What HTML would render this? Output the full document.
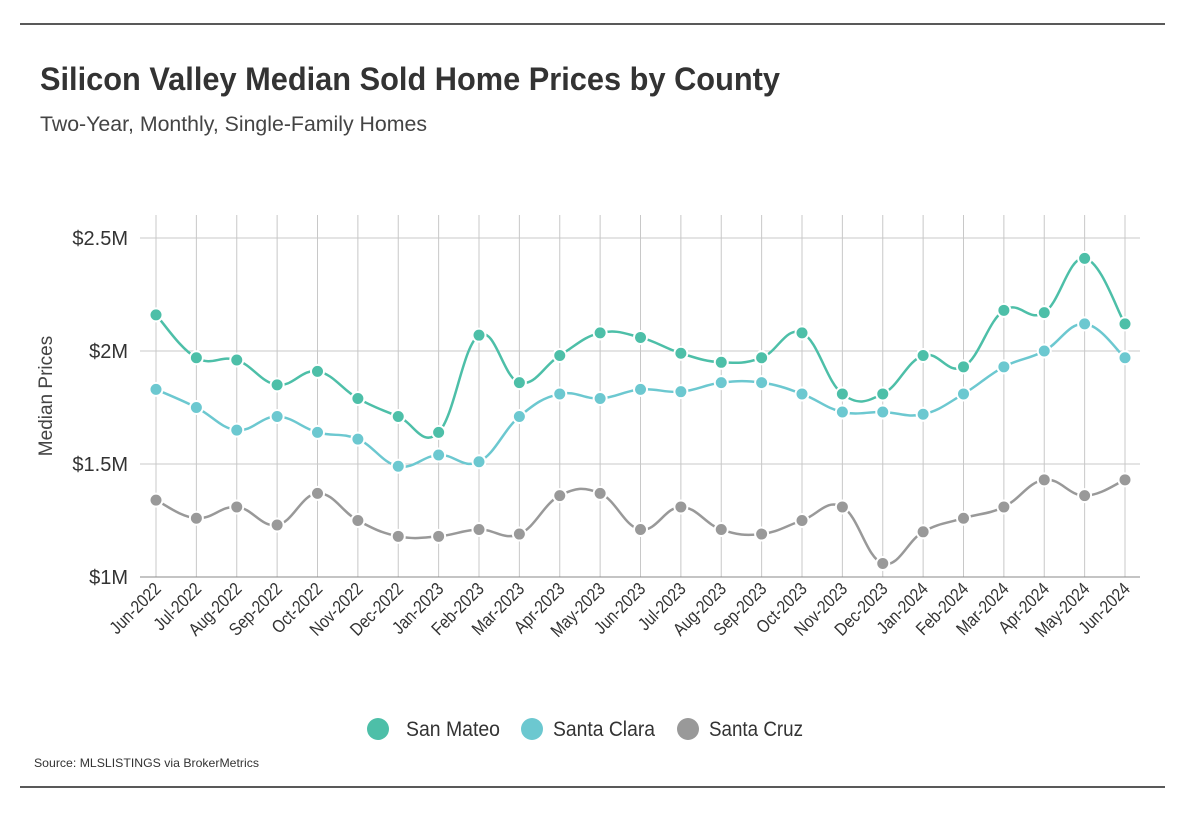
<!DOCTYPE html>
<html><head><meta charset="utf-8">
<style>
body{margin:0;background:#fff;width:1196px;height:832px;overflow:hidden;font-family:"Liberation Sans Narrow","Liberation Sans",sans-serif;}
</style></head>
<body>
<svg id="c" width="1196" height="832" xmlns="http://www.w3.org/2000/svg">
<line x1="20" y1="24" x2="1165" y2="24" stroke="#222" stroke-width="1.5"/>
<line x1="20" y1="787" x2="1165" y2="787" stroke="#222" stroke-width="1.5"/>
<text x="40" y="90" font-size="32" font-weight="bold" fill="#333" textLength="740" lengthAdjust="spacingAndGlyphs">Silicon Valley Median Sold Home Prices by County</text>
<text x="40" y="131" font-size="21" fill="#444" textLength="387" lengthAdjust="spacingAndGlyphs">Two-Year, Monthly, Single-Family Homes</text>
<text transform="translate(52,396) rotate(-90)" text-anchor="middle" font-size="19" fill="#444">Median Prices</text>
<g id="grid"></g><g id="series"></g><g id="xl"></g>
<g>
<circle cx="378" cy="729" r="11" fill="#4dbfa8"/>
<text x="406" y="736" font-size="21" fill="#333" textLength="94" lengthAdjust="spacingAndGlyphs">San Mateo</text>
<circle cx="532" cy="729" r="11" fill="#6cc8d0"/>
<text x="553" y="736" font-size="21" fill="#333" textLength="102" lengthAdjust="spacingAndGlyphs">Santa Clara</text>
<circle cx="688" cy="729" r="11" fill="#999"/>
<text x="709" y="736" font-size="21" fill="#333" textLength="94" lengthAdjust="spacingAndGlyphs">Santa Cruz</text>
</g>
<text x="34" y="767" font-size="12" fill="#333" textLength="225" lengthAdjust="spacingAndGlyphs">Source:  MLSLISTINGS via BrokerMetrics</text>
</svg>
<script>
const categories=["Jun-2022","Jul-2022","Aug-2022","Sep-2022","Oct-2022","Nov-2022","Dec-2022","Jan-2023","Feb-2023","Mar-2023","Apr-2023","May-2023","Jun-2023","Jul-2023","Aug-2023","Sep-2023","Oct-2023","Nov-2023","Dec-2023","Jan-2024","Feb-2024","Mar-2024","Apr-2024","May-2024","Jun-2024"];
const sanMateo=[2.16,1.97,1.96,1.85,1.91,1.79,1.71,1.64,2.07,1.86,1.98,2.08,2.06,1.99,1.95,1.97,2.08,1.81,1.81,1.98,1.93,2.18,2.17,2.41,2.12];
const santaClara=[1.83,1.75,1.65,1.71,1.64,1.61,1.49,1.54,1.51,1.71,1.81,1.79,1.83,1.82,1.86,1.86,1.81,1.73,1.73,1.72,1.81,1.93,2.00,2.12,1.97];
const santaCruz=[1.34,1.26,1.31,1.23,1.37,1.25,1.18,1.18,1.21,1.19,1.36,1.37,1.21,1.31,1.21,1.19,1.25,1.31,1.06,1.20,1.26,1.31,1.43,1.36,1.43];
const yTicks=[1,1.5,2,2.5];
const yTickLabels=["$1M","$1.5M","$2M","$2.5M"];
const NS="http://www.w3.org/2000/svg";
const x0=156,x1=1125,yTop=238,yBot=577;
function xs(i){return x0+(x1-x0)*i/(categories.length-1);}
function ys(v){return yBot-(v-1)*(yBot-yTop)/1.5;}
function mk(t,a,p){const e=document.createElementNS(NS,t);for(const k in a)e.setAttribute(k,a[k]);p.appendChild(e);return e;}
const grid=document.getElementById('grid');
categories.forEach((c,i)=>{
  const l=mk('line',{x1:xs(i),x2:xs(i),y1:215,y2:577,stroke:'#c8c8c8','stroke-width':1},grid);
  
  
  const t=mk('text',{transform:`translate(${xs(i)+6},${590}) rotate(-45) scale(0.85,1)`,'text-anchor':'end','font-size':18,fill:'#333'},document.getElementById('xl'));
  t.textContent=c;
  
  
});
yTicks.forEach((v,i)=>{
  const l=mk('line',{x1:140,x2:1140,y1:ys(v),y2:ys(v),stroke:i==0?'#888':'#c8c8c8','stroke-width':1},grid);
  
  
  const t=mk('text',{x:128,y:ys(v)+7,'text-anchor':'end','font-size':20,fill:'#333'},grid);
  t.textContent=yTickLabels[i];
  
  
});
function path(vals){
  const p=vals.map((v,i)=>[xs(i),ys(v)]);
  let d=`M${p[0][0]},${p[0][1]}`;
  for(let i=0;i<p.length-1;i++){
    const a=p[i-1]||p[i],b=p[i],c=p[i+1],e=p[i+2]||c,k=0.2;
    d+=` C${b[0]+(c[0]-a[0])*k},${b[1]+(c[1]-a[1])*k} ${c[0]-(e[0]-b[0])*k},${c[1]-(e[1]-b[1])*k} ${c[0]},${c[1]}`;
  }
  return d;
}
const S=document.getElementById('series');
[[santaCruz,'#999','santa-cruz'],[santaClara,'#6cc8d0','santa-clara'],[sanMateo,'#4dbfa8','san-mateo']].forEach(([vals,col,n])=>{
  const g=mk('g',{},S);
  
  
  const pl=mk('path',{d:path(vals),fill:'none',stroke:col,'stroke-width':2.5},g);
  
  
  vals.forEach((v,i)=>{
    const c=mk('circle',{cx:xs(i),cy:ys(v),r:6.5,fill:col,stroke:'#fff','stroke-width':2},g);
    
    
  });
});
</script>
</body></html>
